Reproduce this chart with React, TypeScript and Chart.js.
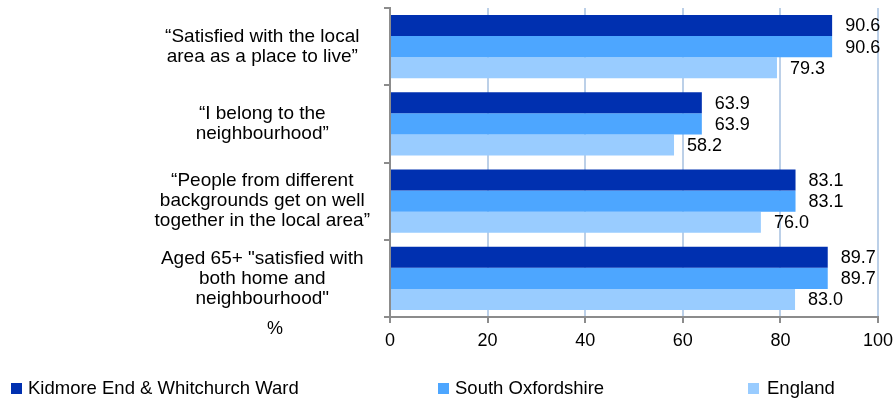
import React, { useEffect, useRef } from "react";
import { Chart, registerables } from "chart.js";

Chart.register(...registerables);

const categories: string[][] = [
  ["“Satisfied with the local", "area as a place to live”"],
  ["“I belong to the", "neighbourhood”"],
  ["“People from different", "backgrounds get on well", "together in the local area”"],
  ["Aged 65+ \"satisfied with", "both home and", "neighbourhood\""],
];
const seriesNames = ["Kidmore End & Whitchurch Ward", "South Oxfordshire", "England"];
const wardValues = [90.6, 63.9, 83.1, 89.7];
const southOxValues = [90.6, 63.9, 83.1, 89.7];
const englandValues = [79.3, 58.2, 76.0, 83.0];
const xTicks = [0, 20, 40, 60, 80, 100];
const unitLabel = "%";

const colors = ["#0030B0", "#4DA6FF", "#99CCFF"];
const FONT = "'Liberation Sans', Arial, sans-serif";
const FS = 18;

export default function App() {
  const ref = useRef<HTMLCanvasElement | null>(null);
  useEffect(() => {
    if (!ref.current) return;
    const valueLabels = {
      id: "valueLabels",
      afterDatasetsDraw(chart: any) {
        const ctx = chart.ctx;
        ctx.save();
        ctx.font = `${FS}px ${FONT}`;
        ctx.fillStyle = "#000";
        ctx.textAlign = "left";
        ctx.textBaseline = "middle";
        chart.data.datasets.forEach((ds: any, i: number) => {
          const meta = chart.getDatasetMeta(i);
          meta.data.forEach((el: any, j: number) => {
            ctx.fillText(Number(ds.data[j]).toFixed(1), el.x + 13, el.y + 1);
          });
        });
        ctx.restore();
      },
    };
    const extras = {
      id: "extras",
      afterDraw(chart: any) {
        const ctx = chart.ctx;
        const a = chart.chartArea;
        ctx.save();
        ctx.font = `${FS}px ${FONT}`;
        ctx.fillStyle = "#000";
        ctx.textBaseline = "middle";
        ctx.textAlign = "center";
        ctx.fillText(unitLabel, a.left - 115, a.bottom + 12);
        // legend
        ctx.font = `18.5px ${FONT}`;
        const squares = [11, 438, 748];
        const texts = [28, 455, 767];
        const ly = chart.height - 10;
        ctx.textAlign = "left";
        seriesNames.forEach((name, i) => {
          ctx.fillStyle = colors[i];
          ctx.fillRect(squares[i], ly - 5, 11, 11);
          ctx.fillStyle = "#000";
          ctx.fillText(name, texts[i], ly + 1);
        });
        ctx.restore();
      },
    };
    const chart = new Chart(ref.current, {
      type: "bar",
      data: {
        labels: categories,
        datasets: [
          { label: seriesNames[0], data: wardValues, backgroundColor: colors[0] },
          { label: seriesNames[1], data: southOxValues, backgroundColor: colors[1] },
          { label: seriesNames[2], data: englandValues, backgroundColor: colors[2] },
        ],
      },
      options: {
        indexAxis: "y",
        animation: false,
        responsive: false,
        maintainAspectRatio: false,
        layout: { autoPadding: false, padding: { top: 8, right: 16, left: 0, bottom: 0 } },
        datasets: { bar: { categoryPercentage: 0.82, barPercentage: 1 } },
        plugins: { legend: { display: false }, tooltip: { enabled: false } },
        scales: {
          x: {
            min: 0,
            max: 100,
            afterBuildTicks: (s: any) => {
              s.ticks = xTicks.map((v) => ({ value: v }));
            },
            afterFit: (s: any) => {
              s.height = 81;
              s.paddingLeft = 0;
              s.paddingRight = 0;
            },
            grid: { color: "#BCD0E8", lineWidth: 2, tickColor: "#8C8C8C", tickLength: 6 },
            border: { color: "#8C8C8C", width: 2 },
            ticks: { color: "#000", font: { family: FONT, size: FS }, padding: 7 },
          },
          y: {
            afterFit: (s: any) => {
              s.width = 390;
              s.paddingTop = 0;
              s.paddingBottom = 0;
            },
            grid: { offset: true, drawOnChartArea: false, tickColor: "#8C8C8C", tickLength: 6, lineWidth: 2 },
            border: { color: "#8C8C8C", width: 2 },
            ticks: {
              color: "#000",
              font: { family: FONT, size: 19, lineHeight: 1.05 },
              crossAlign: "center",
              padding: 14,
            },
          },
        },
      },
      plugins: [valueLabels, extras],
    } as any);
    return () => chart.destroy();
  }, []);
  return (
    <div style={{ position: "absolute", left: 0, top: 0, width: 894, height: 398 }}>
      <canvas ref={ref} width={894} height={398} style={{ width: 894, height: 398, display: "block" }} />
    </div>
  );
}
